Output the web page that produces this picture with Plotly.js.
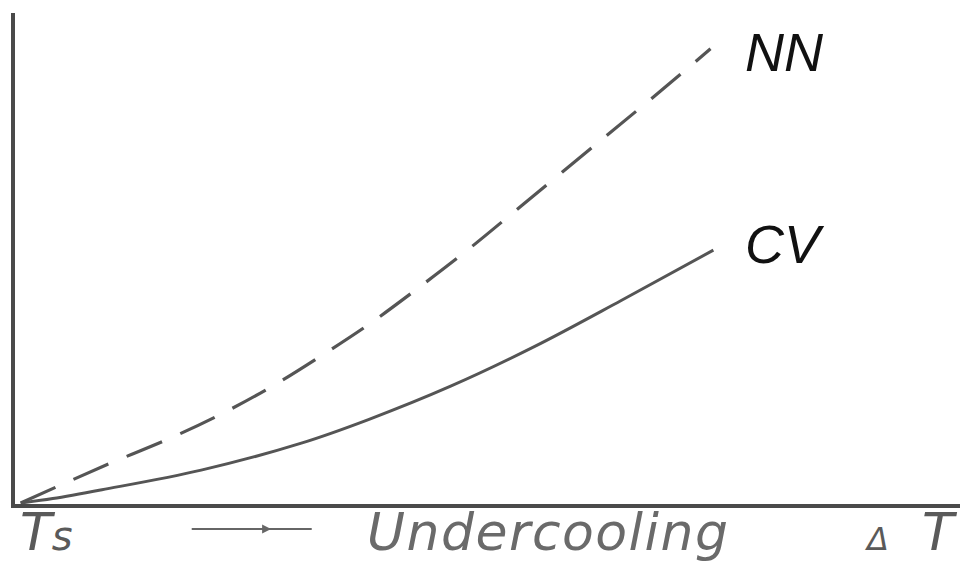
<!DOCTYPE html>
<html>
<head>
<meta charset="utf-8">
<script src="https://cdn.plot.ly/plotly-3.0.1.min.js"></script>
<style>
html,body{margin:0;padding:0;background:#fff;}
#chart{width:960px;height:563px;}
</style>
</head>
<body>
<div id="chart"></div>
<script>
// Undercooling (arbitrary units, 0..100) vs quantity (arbitrary units, 0..100)
const nnX = [0.6, 5.0, 10.2, 16.3, 22.1, 27.5, 32.9, 37.6, 42.4, 48.0, 53.5, 62.0, 68.0, 73.6];
const nnY = [0.2, 4.0, 8.4, 13.3, 18.6, 24.3, 30.8, 36.8, 43.6, 51.9, 60.6, 74.1, 83.6, 92.7];
const cvX = [0.6, 4.0, 9.2, 19.7, 30.3, 37.4, 46.1, 54.9, 64.1, 73.9];
const cvY = [0.2, 1.1, 2.9, 6.9, 12.4, 17.2, 24.0, 32.0, 41.4, 51.7];
const seriesNames = ["NN", "CV"];
const xLabel = "<span style='letter-spacing:1.5px'>Undercooling</span>";
const xStartLabel = "T<span style='font-size:40px'>s</span>";
const xEndLabel = "<span style='font-size:32px'>Δ</span>  T";

const lineColor = "#555555";

const traces = [
  {x: nnX, y: nnY, mode: "lines", name: seriesNames[0],
   line: {color: lineColor, width: 3.2, dash: "38px,20px", shape: "spline", smoothing: 1},
   hoverinfo: "skip"},
  {x: cvX, y: cvY, mode: "lines", name: seriesNames[1],
   line: {color: lineColor, width: 3, shape: "spline", smoothing: 1},
   hoverinfo: "skip"}
];

const layout = {
  width: 960, height: 563,
  margin: {l: 15, r: 0, t: 13, b: 59},
  paper_bgcolor: "#ffffff", plot_bgcolor: "#ffffff",
  showlegend: false,
  xaxis: {range: [0, 100], showgrid: false, zeroline: false, showticklabels: false, ticks: "",
          showline: true, linecolor: "#4a4a4a", linewidth: 3.5, fixedrange: true},
  yaxis: {range: [0, 100], showgrid: false, zeroline: false, showticklabels: false, ticks: "",
          showline: true, linecolor: "#4a4a4a", linewidth: 4, fixedrange: true},
  annotations: [
    {x: 77.0, y: nnY[nnY.length-1] - 0.6, xref: "x", yref: "y", xanchor: "left", yanchor: "middle",
     text: seriesNames[0], showarrow: false,
     font: {family: "Liberation Sans, Arial, sans-serif", size: 54, style: "italic", color: "#111"}},
    {x: 77.0, y: cvY[cvY.length-1] + 1.3, xref: "x", yref: "y", xanchor: "left", yanchor: "middle",
     text: seriesNames[1], showarrow: false,
     font: {family: "Liberation Sans, Arial, sans-serif", size: 54, style: "italic", color: "#111"}},
    {x: 0.37, y: -0.057, xref: "paper", yref: "paper", xanchor: "left", yanchor: "middle",
     text: xLabel, showarrow: false,
     font: {family: "DejaVu Sans, sans-serif", size: 52, style: "italic", color: "#6a6a6a"}},
    {x: 0.003, y: -0.057, xref: "paper", yref: "paper", xanchor: "left", yanchor: "middle",
     text: xStartLabel, showarrow: false,
     font: {family: "DejaVu Sans, sans-serif", size: 52, style: "italic", color: "#5a5a5a"}},
    {x: 1.0, y: -0.057, xref: "paper", yref: "paper", xanchor: "right", yanchor: "middle",
     text: xEndLabel, showarrow: false,
     font: {family: "DejaVu Sans, sans-serif", size: 52, style: "italic", color: "#5a5a5a"}},
    {x: 0.271, y: -0.051, xref: "paper", yref: "paper", text: "", showarrow: true,
     ax: -22, ay: 0, arrowhead: 2, arrowsize: 0.9, arrowwidth: 2, arrowcolor: "#666"}
  ],
  shapes: [
    {type: "line", xref: "paper", yref: "paper", x0: 0.187, x1: 0.314, y0: -0.051, y1: -0.051,
     line: {color: "#666", width: 2}}
  ]
};

Plotly.newPlot("chart", traces, layout, {displayModeBar: false, staticPlot: true});
</script>
</body>
</html>
